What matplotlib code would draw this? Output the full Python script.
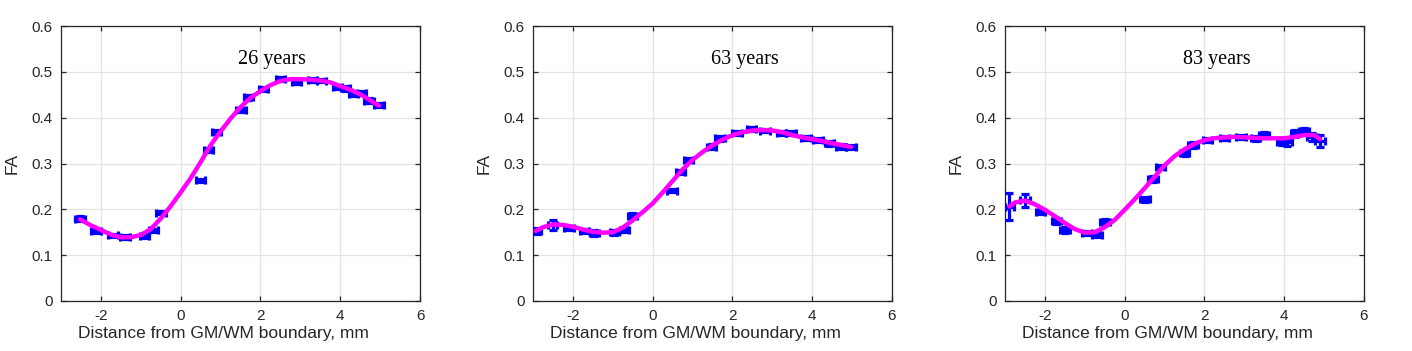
import numpy as np
import matplotlib
matplotlib.use("Agg")
import matplotlib.pyplot as plt

# ages shown in each panel
ages = ["26 years", "63 years", "83 years"]

# measured FA points (distance in mm, FA)
x26 = [-2.53, -2.12, -1.70, -1.39, -0.91, -0.68, -0.50, 0.50, 0.70, 0.90, 1.51, 1.70,
       2.08, 2.50, 2.90, 3.30, 3.53, 3.93, 4.13, 4.33, 4.53, 4.72, 4.97]
y26 = [0.180, 0.153, 0.143, 0.139, 0.142, 0.154, 0.193, 0.263, 0.329, 0.369, 0.417, 0.444,
       0.462, 0.484, 0.478, 0.482, 0.481, 0.466, 0.464, 0.452, 0.454, 0.437, 0.428]
yerr26 = [0.006, 0.004, 0.004, 0.004, 0.004, 0.004, 0.004, 0.004, 0.005, 0.004, 0.005, 0.005,
          0.004, 0.004, 0.004, 0.004, 0.004, 0.004, 0.005, 0.005, 0.005, 0.005, 0.004]

x63 = [-2.91, -2.51, -2.10, -1.71, -1.46, -0.96, -0.71, -0.51, 0.49, 0.70, 0.90, 1.48,
       1.69, 2.11, 2.48, 2.81, 3.23, 3.47, 3.85, 4.14, 4.43, 4.72, 4.97]
y63 = [0.153, 0.166, 0.159, 0.153, 0.148, 0.150, 0.156, 0.186, 0.241, 0.282, 0.308, 0.337,
       0.355, 0.366, 0.375, 0.372, 0.367, 0.366, 0.355, 0.351, 0.344, 0.337, 0.336]
yerr63 = [0.006, 0.010, 0.005, 0.004, 0.006, 0.005, 0.005, 0.005, 0.004, 0.004, 0.004, 0.005,
          0.005, 0.004, 0.004, 0.004, 0.004, 0.004, 0.004, 0.005, 0.005, 0.005, 0.004]

x83 = [-2.89, -2.50, -2.11, -1.71, -1.50, -0.95, -0.70, -0.49, 0.51, 0.71, 0.90, 1.50,
       1.71, 2.08, 2.50, 2.91, 3.28, 3.49, 3.95, 4.07, 4.28, 4.49, 4.69, 4.90]
y83 = [0.206, 0.220, 0.195, 0.175, 0.155, 0.148, 0.145, 0.172, 0.222, 0.266, 0.292, 0.322,
       0.340, 0.351, 0.356, 0.358, 0.355, 0.362, 0.347, 0.346, 0.366, 0.371, 0.358, 0.349]
yerr83 = [0.030, 0.014, 0.006, 0.006, 0.006, 0.005, 0.006, 0.006, 0.006, 0.006, 0.005, 0.006,
          0.007, 0.005, 0.005, 0.005, 0.005, 0.007, 0.006, 0.008, 0.008, 0.007, 0.008, 0.014]

xerr = 0.12

# fitted curves
cx26 = [-2.52, -2.25, -2.0, -1.75, -1.5, -1.25, -1.0, -0.75, -0.5, -0.25, 0.0, 0.25, 0.5, 0.75,
        1.0, 1.25, 1.5, 1.75, 2.0, 2.25, 2.5, 2.75, 3.0, 3.25, 3.5, 3.75, 4.0, 4.25, 4.5, 4.75, 4.97]
cy26 = [0.178, 0.165, 0.155, 0.145, 0.139, 0.139, 0.144, 0.157, 0.180, 0.207, 0.237, 0.268, 0.303, 0.340,
        0.370, 0.398, 0.423, 0.443, 0.458, 0.471, 0.480, 0.484, 0.484, 0.483, 0.481, 0.477, 0.469, 0.461, 0.451, 0.438, 0.426]

cx63 = [-2.93, -2.75, -2.5, -2.25, -2.0, -1.75, -1.5, -1.25, -1.0, -0.75, -0.5, -0.25, 0.0, 0.25, 0.5,
        0.75, 1.0, 1.25, 1.5, 1.75, 2.0, 2.25, 2.5, 2.75, 3.0, 3.25, 3.5, 3.75, 4.0, 4.25, 4.5, 4.75, 4.97]
cy63 = [0.153, 0.161, 0.167, 0.166, 0.162, 0.156, 0.151, 0.149, 0.150, 0.160, 0.176, 0.194, 0.213, 0.237, 0.262,
        0.287, 0.308, 0.325, 0.340, 0.352, 0.362, 0.368, 0.372, 0.373, 0.372, 0.368, 0.362, 0.357, 0.353, 0.349, 0.344, 0.340, 0.336]

cx83 = [-2.89, -2.75, -2.5, -2.25, -2.0, -1.75, -1.5, -1.25, -1.0, -0.75, -0.5, -0.25, 0.0, 0.25, 0.5,
        0.75, 1.0, 1.25, 1.5, 1.75, 2.0, 2.25, 2.5, 2.75, 3.0, 3.25, 3.5, 3.75, 4.0, 4.25, 4.5, 4.75, 4.9]
cy83 = [0.206, 0.215, 0.219, 0.211, 0.199, 0.185, 0.170, 0.157, 0.149, 0.150, 0.161, 0.177, 0.199, 0.222, 0.246,
        0.271, 0.296, 0.316, 0.331, 0.343, 0.351, 0.355, 0.357, 0.358, 0.357, 0.356, 0.355, 0.355, 0.355, 0.358, 0.362, 0.362, 0.353]

points = [(x26, y26, yerr26), (x63, y63, yerr63), (x83, y83, yerr83)]
curves = [(cx26, cy26), (cx63, cy63), (cx83, cy83)]
lefts = [61 / 1412, 533 / 1412, 1005 / 1412]

plt.rcParams['font.family'] = ['Liberation Sans', 'DejaVu Sans']
plt.rcParams['axes.unicode_minus'] = False
axcol = '#262626'

fig = plt.figure(figsize=(14.12, 3.51), dpi=100)
for i in range(3):
    ax = fig.add_axes([lefts[i], 1 - 301 / 351, 359 / 1412, 275 / 351])
    px, py, pe = points[i]
    ax.errorbar(px, py, xerr=xerr, yerr=pe, fmt='none', ecolor='#0000ff',
                elinewidth=2.3, capsize=3.2, capthick=2.3, zorder=3)
    cx, cy = curves[i]
    ax.plot(cx, cy, color='#ff00ff', linewidth=3.2, solid_capstyle='round', zorder=4)
    ax.text(2.3, 0.526, ages[i], family='Liberation Serif', fontsize=14.5,
            ha='center', va='center', color='black')
    ax.set_xlim(-3, 6)
    ax.set_ylim(0, 0.6)
    ax.set_xticks([-2, 0, 2, 4, 6])
    ax.set_yticks([0, 0.1, 0.2, 0.3, 0.4, 0.5, 0.6])
    ax.set_yticklabels(['0', '0.1', '0.2', '0.3', '0.4', '0.5', '0.6'])
    ax.grid(True, color='#e3e3e3', linewidth=0.9)
    ax.set_axisbelow(True)
    for s in ax.spines.values():
        s.set_color(axcol)
        s.set_linewidth(0.9)
    ax.tick_params(direction='in', length=3.5, width=0.9, colors=axcol,
                   labelsize=11, top=True, right=True)
    ax.tick_params(axis='x', pad=5.5)
    ax.tick_params(axis='y', pad=6)
    ax.set_xlabel('Distance from GM/WM boundary, mm', fontsize=12.5, color=axcol)
    ax.set_ylabel('FA', fontsize=12.5, color=axcol)
    ax.xaxis.set_label_coords(0.452, -0.092)
    ax.yaxis.set_label_coords(-0.114, 0.5)

fig.savefig('out.png', dpi=100)
